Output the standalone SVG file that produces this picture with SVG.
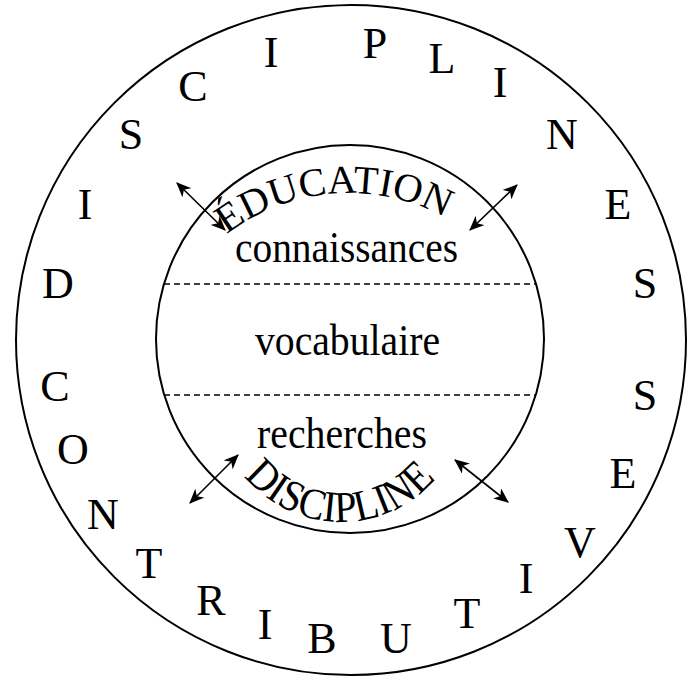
<svg xmlns="http://www.w3.org/2000/svg" width="698" height="681" viewBox="0 0 698 681">
<style>
.ring{fill:none;stroke:#000;stroke-width:2}
.dash{fill:none;stroke:#000;stroke-width:1.5;stroke-dasharray:6 4}
.arr{fill:none;stroke:#000;stroke-width:1.6;marker-start:url(#ah);marker-end:url(#ah)}
.big{font-family:"Liberation Serif","Times New Roman",serif;font-size:44px;fill:#000;text-anchor:middle}
.mid{font-family:"Liberation Serif","Times New Roman",serif;font-size:45px;fill:#000}
.arc{font-family:"Liberation Serif","Times New Roman",serif;fill:#000}
</style>
<defs>
<marker id="ah" viewBox="0 0 14 12" refX="13" refY="6" markerWidth="15" markerHeight="13" markerUnits="userSpaceOnUse" orient="auto-start-reverse">
<path d="M0,0 L14,6 L0,12 L4,6 z" fill="#000"/>
</marker>
<path id="topArc" d="M159.2,325.9 A202,202 0 0 1 538.8,325.9"/>
<path id="botArc" d="M223.5,439.6 A125,125 0 0 0 458.5,439.6"/>
</defs>
<rect width="698" height="681" fill="#fff"/>
<g id="outer-ring">
<circle class="ring" cx="351" cy="340" r="335"/>
</g>
<g id="outer-letters">
<text class="big" x="131" y="149">S</text>
<text class="big" x="193" y="101">C</text>
<text class="big" x="271" y="67">I</text>
<text class="big" x="375" y="58">P</text>
<text class="big" x="442" y="73">L</text>
<text class="big" x="500" y="97">I</text>
<text class="big" x="562" y="149">N</text>
<text class="big" x="618" y="219">E</text>
<text class="big" x="645" y="298">S</text>
<text class="big" x="645" y="410">S</text>
<text class="big" x="623" y="488">E</text>
<text class="big" x="580" y="557">V</text>
<text class="big" x="526" y="593">I</text>
<text class="big" x="467" y="628">T</text>
<text class="big" x="396" y="653">U</text>
<text class="big" x="322" y="653">B</text>
<text class="big" x="265" y="639">I</text>
<text class="big" x="211" y="615">R</text>
<text class="big" x="149" y="578">T</text>
<text class="big" x="103" y="529">N</text>
<text class="big" x="73" y="464">O</text>
<text class="big" x="55" y="401">C</text>
<text class="big" x="58" y="298">D</text>
<text class="big" x="85" y="219">I</text>
</g>
<g id="inner-circle">
<circle class="ring" cx="350" cy="339" r="194"/>
<line class="dash" x1="164" y1="284" x2="536" y2="284"/>
<line class="dash" x1="164" y1="395" x2="536" y2="395"/>
</g>
<g id="education">
<text class="arc" font-size="40"><textPath href="#topArc" startOffset="115" textLength="232" lengthAdjust="spacingAndGlyphs">ÉDUCATION</textPath></text>
</g>
<g id="connaissances">
<text class="mid" x="235" y="262" textLength="223" lengthAdjust="spacingAndGlyphs">connaissances</text>
</g>
<g id="vocabulaire">
<text class="mid" x="255" y="355" textLength="185" lengthAdjust="spacingAndGlyphs">vocabulaire</text>
</g>
<g id="recherches">
<text class="mid" x="257" y="448" textLength="170" lengthAdjust="spacingAndGlyphs">recherches</text>
</g>
<g id="discipline">
<text class="arc" font-size="44"><textPath href="#botArc" startOffset="42" textLength="218" lengthAdjust="spacingAndGlyphs">DISCIPLINE</textPath></text>
</g>
<g id="connectors">
<line class="arr" x1="177" y1="183" x2="225" y2="230"/>
<line class="arr" x1="470" y1="230" x2="517" y2="185"/>
<line class="arr" x1="190" y1="503" x2="238" y2="455"/>
<line class="arr" x1="455" y1="460" x2="508" y2="502"/>
</g>
</svg>
